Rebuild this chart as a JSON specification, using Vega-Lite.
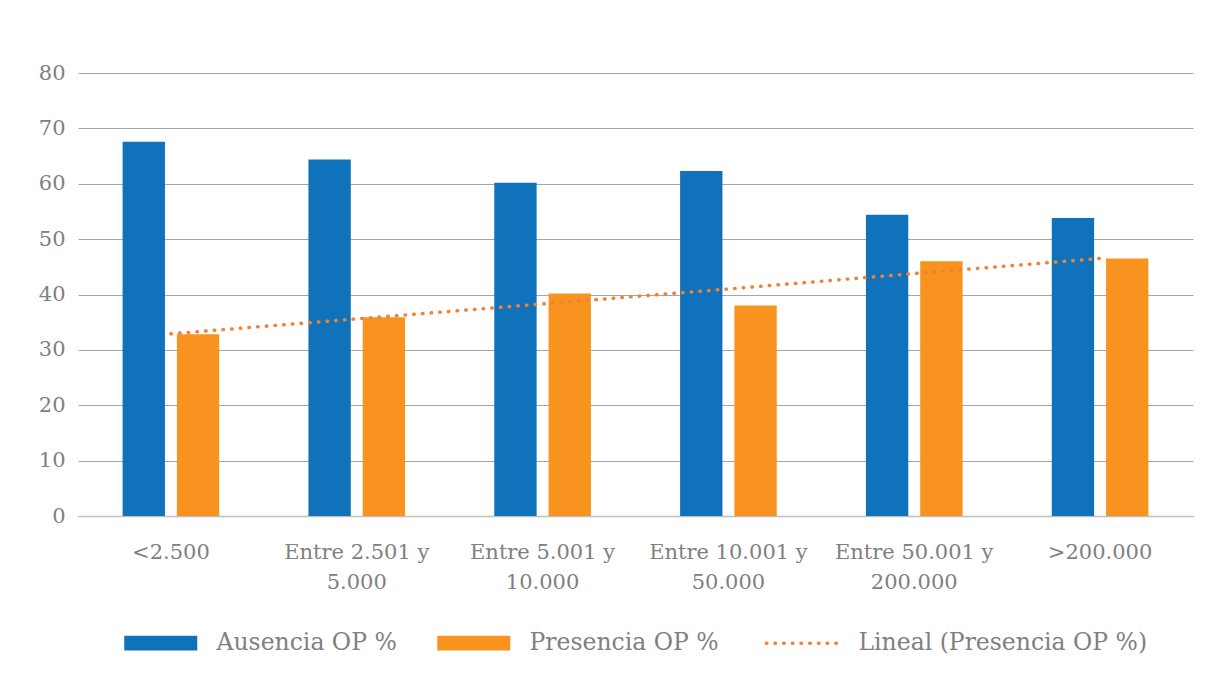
{
  "$schema": "https://vega.github.io/schema/vega-lite/v6.json",
  "width": 1115,
  "height": 443,
  "autosize": "none",
  "padding": {"left": 78, "top": 73, "right": 21, "bottom": 172},
  "background": "white",
  "config": {
    "view": {"stroke": null},
    "font": "DejaVu Serif",
    "axis": {"labelFont": "DejaVu Serif"},
    "legend": {"labelFont": "DejaVu Serif"}
  },
  "datasets": {
    "barras": [
      {"cat": "<2.500", "serie": "Ausencia OP %", "valor": 67.6},
      {"cat": "<2.500", "serie": "Presencia OP %", "valor": 32.8},
      {"cat": "Entre 2.501 y 5.000", "serie": "Ausencia OP %", "valor": 64.4},
      {"cat": "Entre 2.501 y 5.000", "serie": "Presencia OP %", "valor": 35.9},
      {"cat": "Entre 5.001 y 10.000", "serie": "Ausencia OP %", "valor": 60.2},
      {"cat": "Entre 5.001 y 10.000", "serie": "Presencia OP %", "valor": 40.2},
      {"cat": "Entre 10.001 y 50.000", "serie": "Ausencia OP %", "valor": 62.3},
      {"cat": "Entre 10.001 y 50.000", "serie": "Presencia OP %", "valor": 38.0},
      {"cat": "Entre 50.001 y 200.000", "serie": "Ausencia OP %", "valor": 54.4},
      {"cat": "Entre 50.001 y 200.000", "serie": "Presencia OP %", "valor": 46.0},
      {"cat": ">200.000", "serie": "Ausencia OP %", "valor": 53.8},
      {"cat": ">200.000", "serie": "Presencia OP %", "valor": 46.5}
    ],
    "tendencia": [
      {"cat": "<2.500", "valor": 32.9},
      {"cat": "Entre 2.501 y 5.000", "valor": 35.6},
      {"cat": "Entre 5.001 y 10.000", "valor": 38.3},
      {"cat": "Entre 10.001 y 50.000", "valor": 41.0},
      {"cat": "Entre 50.001 y 200.000", "valor": 43.8},
      {"cat": ">200.000", "valor": 46.5}
    ]
  },
  "layer": [
    {
      "data": {"name": "barras"},
      "mark": {"type": "bar"},
      "encoding": {
        "x": {
          "field": "cat",
          "type": "nominal",
          "sort": ["<2.500", "Entre 2.501 y 5.000", "Entre 5.001 y 10.000", "Entre 10.001 y 50.000", "Entre 50.001 y 200.000", ">200.000"],
          "scale": {"paddingInner": 0.48, "paddingOuter": 0.24},
          "axis": {
            "title": null,
            "labelAngle": 0,
            "labelFont": "DejaVu Serif",
            "labelFontSize": 21,
            "labelColor": "#808080",
            "labelPadding": 25,
            "labelLineHeight": 30,
            "labelLimit": 400,
            "ticks": false,
            "domainColor": "#BFBFBF",
            "domainWidth": 1.5,
            "labelExpr": "indexof(datum.value, ' y ') > 0 ? [substring(datum.value, 0, indexof(datum.value, ' y ') + 2), substring(datum.value, indexof(datum.value, ' y ') + 3)] : datum.value"
          }
        },
        "xOffset": {"field": "serie", "type": "nominal", "sort": ["Ausencia OP %", "Presencia OP %"], "scale": {"paddingInner": 0.22}},
        "y": {
          "field": "valor",
          "type": "quantitative",
          "scale": {"domain": [0, 80], "nice": false},
          "axis": {
            "title": null,
            "values": [0, 10, 20, 30, 40, 50, 60, 70, 80],
            "labelFont": "DejaVu Serif",
            "labelFontSize": 21,
            "labelColor": "#808080",
            "labelPadding": 13,
            "ticks": false,
            "domain": false,
            "grid": true,
            "gridColor": "#A6A6A6",
            "gridWidth": 1.2
          }
        },
        "color": {
          "field": "serie",
          "type": "nominal",
          "scale": {
            "domain": ["Ausencia OP %", "Presencia OP %", "Lineal (Presencia OP %)"],
            "range": ["#1072BA", "#F7931E", "#EE8236"]
          },
          "legend": {
            "title": null,
            "orient": "none",
            "direction": "horizontal",
            "columns": 3,
            "legendX": 71,
            "legendY": 558,
            "labelFont": "DejaVu Serif",
            "labelFontSize": 23.5,
            "labelColor": "#808080",
            "labelOffset": 44,
            "labelLimit": 500,
            "columnPadding": 40,
            "symbolSize": 5329,
            "encode": {
              "symbols": {
                "update": {
                  "shape": {"signal": "datum.value === 'Lineal (Presencia OP %)' ? 'M-1,0H1' : 'M-1,-0.205H1V0.205H-1Z'"},
                  "fill": {"signal": "datum.value === 'Lineal (Presencia OP %)' ? 'transparent' : scale('color', datum.value)"},
                  "stroke": {"signal": "scale('color', datum.value)"},
                  "strokeWidth": {"signal": "datum.value === 'Lineal (Presencia OP %)' ? 3.5 : 0"},
                  "strokeDash": {"signal": "datum.value === 'Lineal (Presencia OP %)' ? [0.5, 8.2] : [1, 0]"},
                  "strokeCap": {"value": "round"},
                  "opacity": {"value": 1}
                }
              }
            }
          }
        }
      }
    },
    {
      "data": {"name": "tendencia"},
      "mark": {"type": "line", "strokeDash": [0.5, 8.2], "strokeCap": "round", "strokeWidth": 3.5},
      "encoding": {
        "x": {
          "field": "cat",
          "type": "nominal",
          "sort": ["<2.500", "Entre 2.501 y 5.000", "Entre 5.001 y 10.000", "Entre 10.001 y 50.000", "Entre 50.001 y 200.000", ">200.000"]
        },
        "y": {"field": "valor", "type": "quantitative"},
        "color": {"datum": "Lineal (Presencia OP %)"}
      }
    }
  ]
}
